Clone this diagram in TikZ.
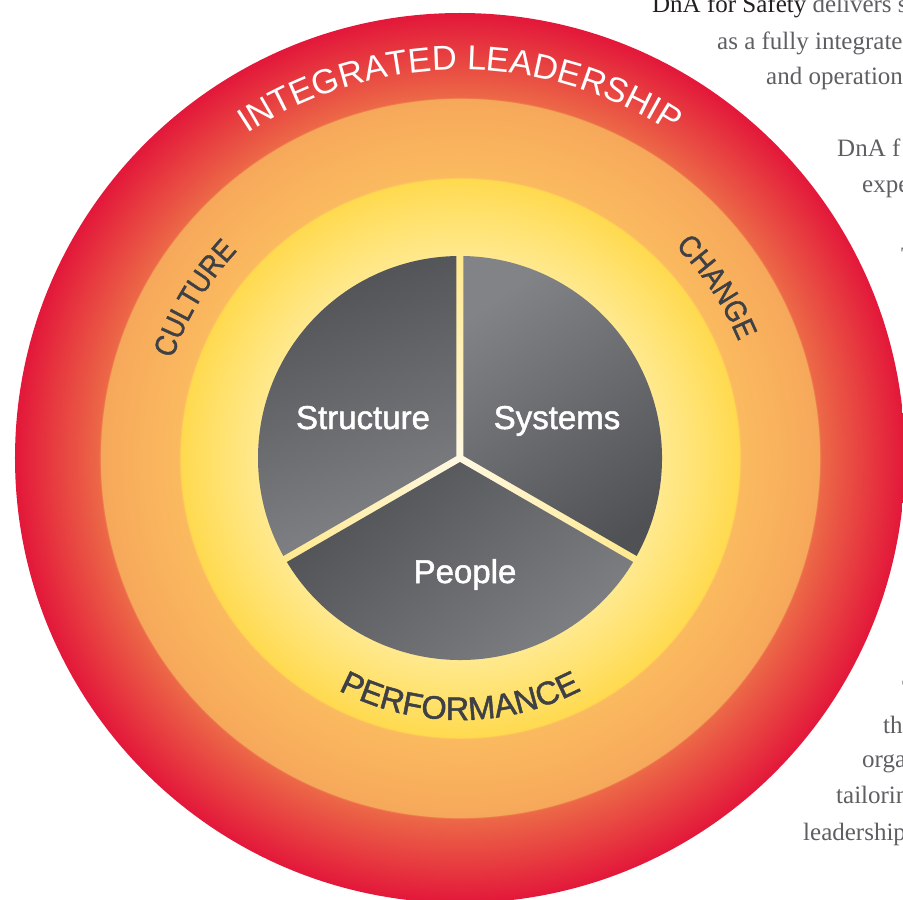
\documentclass[tikz,border=0pt]{standalone}
\usepackage{fontspec}
\setmainfont{Liberation Serif}
\newfontfamily\sansf{Liberation Sans}
\newfontfamily\sansmed[FakeBold=1.5]{Liberation Sans}
\newfontfamily\sanscond[FakeBold=1.3, FakeStretch=0.88]{Liberation Sans}
\usetikzlibrary{decorations.text}
\definecolor{cY0}{HTML}{FFF8E2}
\definecolor{cY1}{HTML}{FFE98E}
\definecolor{cY2}{HTML}{FFDA4F}
\definecolor{cO1}{HTML}{FBBA5F}
\definecolor{cO2}{HTML}{F6A85A}
\definecolor{cR1}{HTML}{EC6947}
\definecolor{cR2}{HTML}{E3173A}
\definecolor{gD}{HTML}{505155}
\definecolor{gL}{HTML}{828387}
\definecolor{ringtext}{HTML}{3E4045}
\definecolor{bodygray}{HTML}{5E5F62}
\definecolor{dnablack}{HTML}{231F20}
\pgfdeclareradialshading{rings}{\pgfpoint{0bp}{0bp}}{color(0bp)=(cY0); color(11.35bp)=(cY1); color(15.72bp)=(cY2); color(15.75bp)=(cO1); color(20.21bp)=(cO2); color(20.24bp)=(cR1); color(25bp)=(cR2); color(50bp)=(cR2)}
\begin{document}
\begin{tikzpicture}[x=1pt,y=1pt,
  lbl/.style={font=\sansmed\fontsize{33}{33}\selectfont, text=white, anchor=base, inner sep=0pt},
  body/.style={font=\fontsize{25}{30}\selectfont, text=bodygray, anchor=base west, inner sep=0pt}]
\useasboundingbox (-460,-442) rectangle (443,458);
% rings
\shade[shading=rings] (0,0) circle[radius=445];
% sectors
\shade[top color=gD, bottom color=gL, shading angle=20]
  (150:4.04) -- (90.993:202) arc[start angle=90.993, end angle=209.007, radius=202] -- cycle;
\shade[top color=gL, bottom color=gD, shading angle=35]
  (30:4.04) -- (-29.007:202) arc[start angle=-29.007, end angle=89.007, radius=202] -- cycle;
\shade[top color=gD, bottom color=gL, shading angle=40]
  (270:4.04) -- (210.993:202) arc[start angle=210.993, end angle=329.007, radius=202] -- cycle;
\node[lbl] (structure) at (-97,29) {Structure};
\node[lbl] (systems) at (97,29) {Systems};
\node[lbl] (people) at (5,-125) {People};
% curved labels
\path[decorate, decoration={text along path, text align=center, text color=white,
  text={|\sansf\fontsize{34.5}{34.5}\selectfont|INTEGRATED LEADERSHIP}}]
  (130:388) arc[start angle=130, end angle=50, radius=388];
\path[decorate, decoration={text along path, text align=center, text color=ringtext,
  text={|\sanscond\fontsize{30.5}{30.5}\selectfont|CULTURE}}]
  (174:304) arc[start angle=174, end angle=124, radius=304];
\path[decorate, decoration={text along path, text align=center, text color=ringtext,
  text={|\sanscond\fontsize{30.5}{30.5}\selectfont|CHANGE}}]
  (58.6:302) arc[start angle=58.6, end angle=8.6, radius=302];
\path[decorate, decoration={text along path, text align=center, text color=ringtext,
  text={|\sansmed\fontsize{32.5}{32.5}\selectfont|PERFORMANCE}}]
  (225:262) arc[start angle=225, end angle=315, radius=262];
% side text
\node[body] (t1) at (192,445) {{\color{dnablack}DnA for Safety} delivers s};
\node[body] (t2) at (257,408) {as a fully integrate};
\node[body] (t3) at (306,373) {and operation};
\node[body] (t4) at (377,301) {DnA f};
\node[body] (t5) at (402,265) {expe};
\node[body] (t6) at (441,193) {T};
\node[body] (t7) at (442,-239) {T};
\node[body] (t8) at (423,-275) {th};
\node[body] (t9) at (402,-309) {orga};
\node[body] (t10) at (376,-345) {tailorin};
\node[body] (t11) at (343,-382) {leadership};
\end{tikzpicture}
\end{document}
